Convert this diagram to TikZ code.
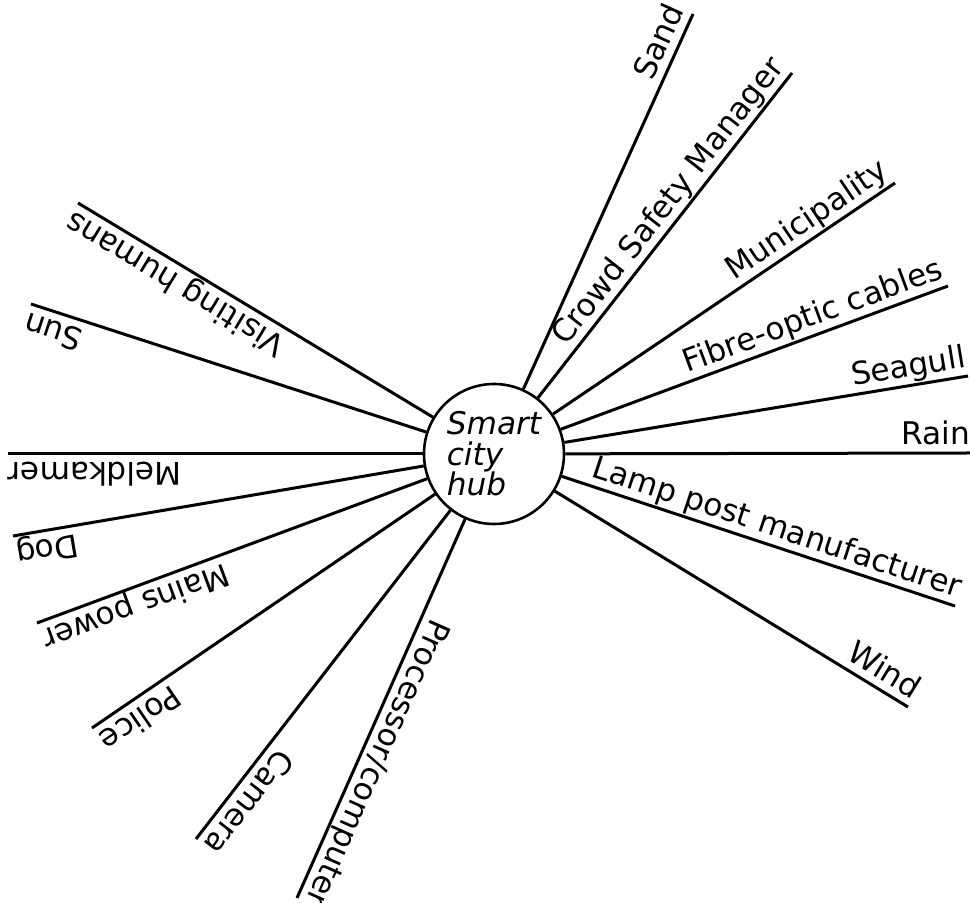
\documentclass[tikz,border=0pt]{standalone}
\usepackage{fontspec}
\setmainfont{DejaVu Sans}
\usetikzlibrary{positioning}

\begin{document}
\begin{tikzpicture}[x=0.5pt,y=0.5pt,
        hub/.style={draw,circle,line width=1.3pt,minimum size=70pt,inner sep=0pt,align=left,
            font=\fontsize{15.6}{15.2}\selectfont\itshape},
        spoke/.style={line width=1.5pt},
        lbl/.style={sloped,allow upside down,pos=1,anchor=south east,text depth=0pt,
            inner xsep=0pt,inner ysep=4.5pt,outer sep=0pt,font=\fontsize{15.6}{18}\selectfont}]
    \useasboundingbox (-494,-449) rectangle (476,454);
    \node (hub) [hub] at (0,0) {Smart \\ city \\ hub};

    \coordinate (sand) at (199,440);
    \coordinate (crowd) at (298,381);
    \coordinate (municipality) at (401,271);
    \coordinate (fibre) at (454,168);
    \coordinate (seagull) at (474,78);
    \coordinate (rain) at (476,1);
    \coordinate (lamppost) at (461,-152);
    \coordinate (wind) at (414,-253);
    \coordinate (processor) at (-197,-444);
    \coordinate (camera) at (-298,-385);
    \coordinate (police) at (-402,-274);
    \coordinate (mains) at (-457,-169);
    \coordinate (dog) at (-481,-82);
    \coordinate (meldkamer) at (-486,0);
    \coordinate (sun) at (-463,150);
    \coordinate (humans) at (-416,251);

    \draw [spoke] (hub) -- (sand) node [lbl] {Sand};
    \draw [spoke] (hub) -- (crowd) node [lbl] {Crowd Safety Manager};
    \draw [spoke] (hub) -- (municipality) node [lbl] {Municipality};
    \draw [spoke] (hub) -- (fibre) node [lbl] {Fibre-optic cables};
    \draw [spoke] (hub) -- (seagull) node [lbl] {Seagull};
    \draw [spoke] (hub) -- (rain) node [lbl] {Rain};
    \draw [spoke] (hub) -- (lamppost) node [lbl] {Lamp post manufacturer};
    \draw [spoke] (hub) -- (wind) node [lbl] {Wind};
    \draw [spoke] (hub) -- (processor) node [lbl] {Processor/computer};
    \draw [spoke] (hub) -- (camera) node [lbl] {Camera};
    \draw [spoke] (hub) -- (police) node [lbl] {Police};
    \draw [spoke] (hub) -- (mains) node [lbl] {Mains power};
    \draw [spoke] (hub) -- (dog) node [lbl] {Dog};
    \draw [spoke] (hub) -- (meldkamer) node [lbl] {Meldkamer};
    \draw [spoke] (hub) -- (sun) node [lbl] {Sun};
    \draw [spoke] (hub) -- (humans) node [lbl] {Visiting humans};
\end{tikzpicture}
\end{document}
